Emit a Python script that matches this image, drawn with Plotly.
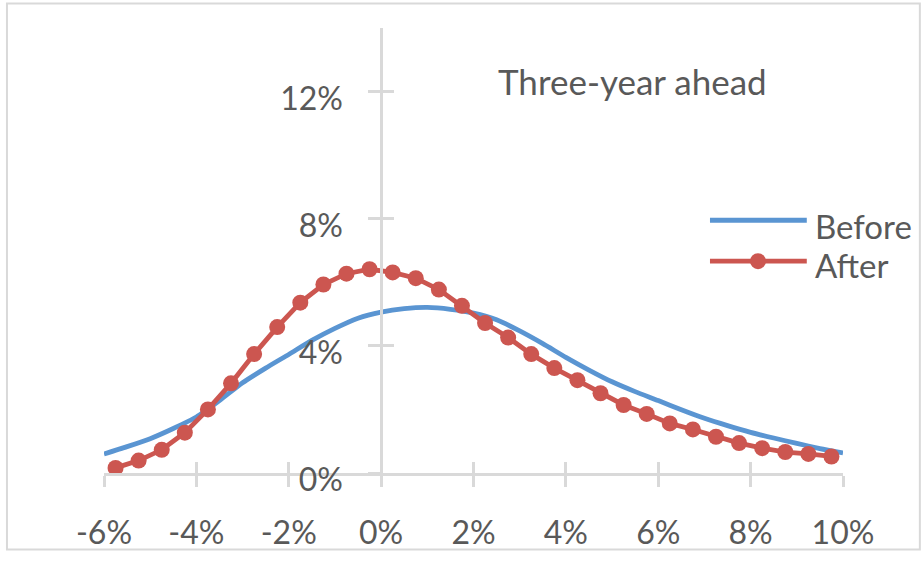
import plotly.graph_objects as go

# "Before" density, sampled every half point from -6% to 10%
before_x = [-6.0, -5.5, -5.0, -4.5, -4.0, -3.5, -3.0, -2.5, -2.0, -1.5, -1.0,
            -0.5, 0.0, 0.5, 1.0, 1.5, 2.0, 2.5, 3.0, 3.5, 4.0, 4.5, 5.0,
            5.5, 6.0, 6.5, 7.0, 7.5, 8.0, 8.5, 9.0, 9.5, 10.0]
before_y = [0.60, 0.83, 1.08, 1.40, 1.76, 2.28, 2.84, 3.30, 3.73, 4.17, 4.55,
            4.87, 5.06, 5.17, 5.21, 5.15, 5.03, 4.82, 4.47, 4.07, 3.64, 3.24, 2.87,
            2.56, 2.28, 1.99, 1.72, 1.49, 1.28, 1.10, 0.93, 0.77, 0.63]

# "After" density at bin midpoints
after_x = [-5.75, -5.25, -4.75, -4.25, -3.75, -3.25, -2.75, -2.25, -1.75, -1.25,
           -0.75, -0.25, 0.25, 0.75, 1.25, 1.75, 2.25, 2.75, 3.25, 3.75,
           4.25, 4.75, 5.25, 5.75, 6.25, 6.75, 7.25, 7.75, 8.25, 8.75, 9.25, 9.75]
after_y = [0.16, 0.39, 0.73, 1.27, 2.00, 2.82, 3.74, 4.59, 5.36, 5.93,
           6.27, 6.41, 6.31, 6.13, 5.77, 5.26, 4.72, 4.26, 3.74, 3.30,
           2.92, 2.51, 2.14, 1.86, 1.56, 1.37, 1.14, 0.94, 0.78, 0.66, 0.60, 0.52]

x_ticks = [-6, -4, -2, 0, 2, 4, 6, 8, 10]
x_labels = ["-6%", "-4%", "-2%", "0%", "2%", "4%", "6%", "8%", "10%"]
y_ticks = [0, 4, 8, 12]
y_labels = ["0%", "4%", "8%", "12%"]

series_names = ["Before", "After"]
title_text = "Three-year ahead"

BLUE = "#5A95D2"
RED = "#CC5650"
AXIS = "#D9D9D9"
TEXT = "#595959"
FONT = "Lato"

X_RANGE = [-6, 10]
Y_RANGE = [0, 14]
# y axis crosses the x axis at 0%
cross = (0 - X_RANGE[0]) / (X_RANGE[1] - X_RANGE[0])

fig = go.Figure()
fig.add_trace(go.Scatter(
    x=before_x, y=before_y, mode="lines", name=series_names[0],
    line=dict(color=BLUE, width=4.8, shape="spline", smoothing=0.6),
    showlegend=False,
))
fig.add_trace(go.Scatter(
    x=after_x, y=after_y, mode="lines+markers", name=series_names[1],
    line=dict(color=RED, width=4.8),
    marker=dict(size=16, color=RED),
    xaxis="x2", yaxis="y2", showlegend=False,
))

tick_font = dict(family=FONT, size=32, color=TEXT)
common_x = dict(range=X_RANGE, tickvals=x_ticks, showgrid=False, zeroline=False,
                tickcolor=AXIS, tickwidth=2.5)
common_y = dict(range=Y_RANGE, tickvals=y_ticks, showgrid=False, zeroline=False,
                tickcolor=AXIS, tickwidth=2.5, anchor="free", position=cross,
                side="left")

fig.update_layout(
    width=922, height=563,
    margin=dict(l=104, r=79, t=28, b=81),
    paper_bgcolor="white", plot_bgcolor="white",
    xaxis=dict(**common_x, ticktext=x_labels, ticks="outside", ticklen=11,
               showline=True, linecolor=AXIS, linewidth=2.5, anchor="y",
               tickfont=tick_font, ticklabelstandoff=19),
    xaxis2=dict(**common_x, overlaying="x", anchor="y", ticks="inside",
                ticklen=11, showticklabels=False, showline=False),
    yaxis=dict(**common_y, ticktext=y_labels, ticks="outside", ticklen=12,
               showline=True, linecolor=AXIS, linewidth=2.5,
               tickfont=tick_font, ticklabelstandoff=19, ticklabelshift=7),
    yaxis2=dict(**common_y, overlaying="y", ticks="inside", ticklen=12,
                showticklabels=False, showline=False),
    showlegend=False,
)

# chart title inside the plot area
fig.add_annotation(
    text=title_text, xref="paper", yref="paper", x=0.531, y=0.881,
    xanchor="left", yanchor="middle", showarrow=False,
    font=dict(family=FONT, size=35, color=TEXT),
)

# legend: line samples with labels on the right
legend_rows = [(series_names[0], BLUE, 0.568, 0.555, False),
               (series_names[1], RED, 0.476, 0.467, True)]
for name, color, ly, ty, has_marker in legend_rows:
    fig.add_shape(type="line", xref="paper", yref="paper",
                  x0=0.820, x1=0.951, y0=ly, y1=ly,
                  line=dict(color=color, width=4.8))
    if has_marker:
        fig.add_shape(type="circle", xref="paper", yref="paper",
                      xsizemode="pixel", ysizemode="pixel",
                      xanchor=0.885, yanchor=ly, x0=-8, x1=8, y0=-8, y1=8,
                      fillcolor=color, line=dict(width=0))
    fig.add_annotation(text=name, xref="paper", yref="paper", x=0.959, y=ty,
                       xanchor="left", yanchor="middle", showarrow=False,
                       font=dict(family=FONT, size=33, color=TEXT))

# chart border
fig.add_shape(type="rect", xref="paper", yref="paper",
              x0=-0.1313, x1=1.104, y0=-0.1718, y1=1.055,
              line=dict(color=AXIS, width=2), layer="below")

fig.write_html("out.html")
